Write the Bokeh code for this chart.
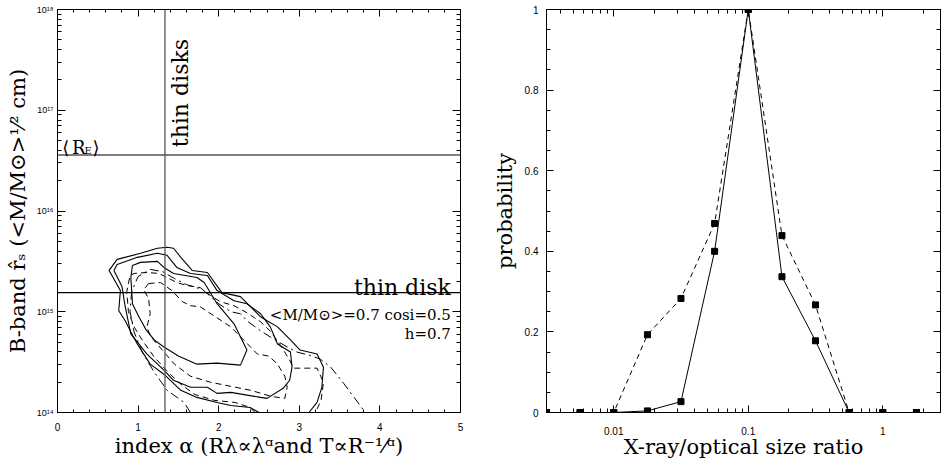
import numpy as np
from bokeh.plotting import figure
from bokeh.models import (Range1d, LinearAxis, LogAxis, FixedTicker, LogTicker,
                          CustomJSTickFormatter, Span, Label)
from bokeh.layouts import row
from bokeh.embed import file_html
from bokeh.resources import INLINE

# ---------------- data: left panel (index alpha vs log10 r_s) ----------------
ALPHA_TICKS = [0, 1, 2, 3, 4, 5]
THIN_DISKS_ALPHA = 4.0 / 3.0
R_E = 3.6e16
THIN_DISK_R = 1.55e15

S1_alpha = [0.93, 1.03, 1.24, 1.32, 1.44, 1.73, 1.82, 1.98, 2.19, 2.35, 2.27, 1.98, 1.73,
            1.50, 1.32, 1.20, 1.10, 1.01, 0.93, 0.91, 0.93]
S1_logr = [15.46, 15.49, 15.50, 15.44, 15.38, 15.34, 15.29, 15.08, 14.88, 14.62, 14.47, 14.49, 14.48,
           14.56, 14.65, 14.72, 14.82, 14.95, 15.08, 15.34, 15.46]

S2_alpha = [0.70, 0.74, 0.99, 1.24, 1.36, 1.48, 1.65, 1.86, 1.98, 2.19, 2.35, 2.52, 2.64, 2.73,
            2.89, 2.91, 2.88, 2.80, 2.60, 2.52, 2.15, 1.98, 1.86, 1.65, 1.44, 1.32, 1.11, 0.91,
            0.84, 0.80, 0.70]
S2_logr = [15.41, 15.47, 15.54, 15.58, 15.56, 15.44, 15.38, 15.36, 15.21, 15.11, 15.08, 14.98, 14.85, 14.68,
           14.60, 14.45, 14.32, 14.24, 14.14, 14.15, 14.20, 14.19, 14.25, 14.25, 14.32, 14.42, 14.58, 14.78,
           15.05, 15.25, 15.41]

S3_alpha = [2.50, 2.39, 2.15, 1.98, 1.73, 1.53, 1.32, 1.15, 0.99, 0.91, 0.84, 0.76, 0.78, 0.64,
            0.74, 1.03, 1.24, 1.36, 1.44, 1.53, 1.67, 1.86, 2.04, 2.27, 2.52, 2.60, 2.73, 2.89,
            3.01, 3.22, 3.30, 3.28, 3.22, 3.12]
S3_logr = [14.00, 14.05, 14.07, 14.10, 14.15, 14.22, 14.38, 14.48, 14.68, 14.80, 14.91, 15.01, 15.21, 15.41,
           15.52, 15.58, 15.63, 15.64, 15.63, 15.54, 15.41, 15.39, 15.19, 15.15, 14.95, 14.91, 14.85, 14.72,
           14.62, 14.58, 14.45, 14.25, 14.10, 14.00]

D1_alpha = [1.13, 1.28, 1.42, 1.55, 1.65, 1.77, 1.94, 2.15, 2.31, 2.48, 2.62, 2.73, 2.82, 2.85,
            2.82, 2.65, 2.40, 2.15, 1.90, 1.65, 1.45, 1.30, 1.15, 1.11, 1.15, 1.13, 1.07, 1.13]
D1_logr = [15.28, 15.29, 15.21, 15.10, 15.06, 15.05, 14.96, 14.85, 14.72, 14.58, 14.56, 14.48, 14.36, 14.25,
           14.14, 14.16, 14.22, 14.26, 14.30, 14.36, 14.48, 14.62, 14.76, 14.85, 14.98, 15.13, 15.22, 15.28]

D2_alpha = [2.45, 2.39, 2.20, 1.95, 1.70, 1.50, 1.35, 1.20, 1.05, 0.95, 0.88, 0.86, 0.90, 0.95,
            1.11, 1.26, 1.48, 1.61, 1.77, 1.90, 2.02, 2.19, 2.35, 2.52, 2.65, 2.78, 2.88, 2.93,
            3.10, 3.22, 3.30, 3.27, 3.20]
D2_logr = [14.00, 14.05, 14.10, 14.12, 14.18, 14.30, 14.42, 14.55, 14.72, 14.85, 15.00, 15.20, 15.36, 15.38,
           15.39, 15.38, 15.29, 15.26, 15.24, 15.16, 15.10, 15.06, 14.99, 14.90, 14.80, 14.65, 14.52, 14.44,
           14.44, 14.44, 14.30, 14.12, 14.00]

DD_alpha = [1.65, 1.57, 1.36, 1.20, 1.05, 0.95, 0.90, 0.92, 1.00, 1.15, 1.30, 1.45, 1.60, 1.80,
            2.00, 2.15, 2.27, 2.35, 2.52, 2.68, 2.85, 2.97, 3.12, 3.26, 3.39, 3.55, 3.68, 3.80, 3.82]
DD_logr = [14.00, 14.10, 14.22, 14.40, 14.60, 14.80, 15.00, 15.20, 15.35, 15.42, 15.40, 15.33, 15.27, 15.22,
           15.08, 15.00, 14.98, 14.91, 14.81, 14.73, 14.65, 14.60, 14.57, 14.53, 14.45, 14.29, 14.15, 14.02, 14.00]

# ---------------- data: right panel ----------------
RATIO = [0.00316, 0.00562, 0.01, 0.0178, 0.0316, 0.0562, 0.1, 0.178, 0.316, 0.562, 1.0, 1.78]
PROB_SOLID = [0, 0, 0, 0.004, 0.027, 0.40, 1.0, 0.337, 0.178, 0, 0, 0]
PROB_DASHED = [0, 0, 0, 0.193, 0.283, 0.469, 1.0, 0.439, 0.267, 0, 0, 0]
PROB_TICKS = [0, 0.2, 0.4, 0.6, 0.8, 1.0]

SERIF = "DejaVu Serif"
SANS = "Liberation Sans"


def style_axis(ax, major_in, minor_in, size="10px", standoff=6, labels=True):
    ax.major_tick_in = major_in
    ax.major_tick_out = 0
    ax.minor_tick_in = minor_in
    ax.minor_tick_out = 0
    ax.axis_line_color = "black"
    ax.major_tick_line_color = "black"
    ax.minor_tick_line_color = "black"
    ax.major_label_text_font = SANS
    ax.major_label_text_color = "black"
    ax.major_label_text_font_size = size
    ax.major_label_standoff = standoff
    if not labels:
        ax.major_label_text_font_size = "1px"
        ax.major_label_text_color = None
        ax.major_label_standoff = 0
    ax.axis_label_text_font = SERIF
    ax.axis_label_text_font_style = "normal"
    ax.axis_label_text_color = "black"
    ax.axis_label_text_font_size = "21px"


pow_fmt = CustomJSTickFormatter(code="""
const e = Math.round(Math.log10(tick));
const sup = {'0':'\u2070','1':'\u00b9','2':'\u00b2','3':'\u00b3','4':'\u2074','5':'\u2075',
             '6':'\u2076','7':'\u2077','8':'\u2078','9':'\u2079','-':'\u207b'};
return '10' + String(e).split('').map(c => sup[c]).join('');
""")

# ---------------- left figure ----------------
p1 = figure(width=470, height=462, x_range=Range1d(0, 5), y_range=Range1d(1e14, 1e18),
            y_axis_type="log", output_backend="svg", toolbar_location=None,
            min_border_left=57, min_border_right=10, min_border_top=9, min_border_bottom=50)
p1.grid.visible = False
p1.outline_line_color = "black"

xt = FixedTicker(ticks=ALPHA_TICKS, minor_ticks=[i * 0.2 for i in range(26)])
bx = p1.below[0]
bx.ticker = xt
style_axis(bx, 7, 3, "10px", 10)
bx.axis_label = "index \u03b1 (R\u03bb\u221d\u03bb\u1d45and T\u221dR\u207b\u00b9\u2044\u1d45)"
bx.axis_label_standoff = 0

ly = p1.left[0]
ly.ticker = LogTicker(num_minor_ticks=10)
ly.formatter = pow_fmt
style_axis(ly, 8, 4, "9px", 4)
ly.axis_label = "B-band r\u0302\u209b (<M/M\u2299>\u00b9\u2044\u00b2 cm)"
ly.axis_label_standoff = 4

top1 = LinearAxis(ticker=xt)
style_axis(top1, 7, 3, labels=False)
p1.add_layout(top1, "above")
right1 = LogAxis(ticker=LogTicker(num_minor_ticks=10))
style_axis(right1, 8, 4, labels=False)
p1.add_layout(right1, "right")

p1.add_layout(Span(location=THIN_DISKS_ALPHA, dimension="height", line_color="#555555", line_width=1.3))
p1.add_layout(Span(location=R_E, dimension="width", line_color="#555555", line_width=1.5))
p1.add_layout(Span(location=THIN_DISK_R, dimension="width", line_color="black", line_width=1.2))

for a, lr in [(S1_alpha, S1_logr), (S2_alpha, S2_logr), (S3_alpha, S3_logr)]:
    p1.line(a, [10 ** v for v in lr], line_color="black", line_width=1.1)
for a, lr in [(D1_alpha, D1_logr), (D2_alpha, D2_logr)]:
    p1.line(a, [10 ** v for v in lr], line_color="black", line_width=1.0, line_dash="6 4")
p1.line(DD_alpha, [10 ** v for v in DD_logr], line_color="black", line_width=1.0, line_dash="9 4 2 4")

lab_kw = dict(text_font=SERIF, text_color="black")
p1.add_layout(Label(x=THIN_DISKS_ALPHA, y=4.3e16, x_offset=3, text="thin disks", angle=np.pi / 2,
                    text_align="left", text_baseline="top", text_font_size="22px", **lab_kw))
p1.add_layout(Label(x=4.88, y=THIN_DISK_R, y_offset=5, text="thin disk", text_align="right",
                    text_baseline="alphabetic", text_font_size="22px", **lab_kw))
p1.add_layout(Label(x=4.88, y=9.2e14, text="<M/M\u2299>=0.7 cosi=0.5", text_align="right",
                    text_baseline="alphabetic", text_font_size="15px", **lab_kw))
p1.add_layout(Label(x=4.88, y=5.97e14, text="h=0.7", text_align="right",
                    text_baseline="alphabetic", text_font_size="15px", **lab_kw))
p1.add_layout(Label(x=0.06, y=R_E, y_offset=7, text="\u27e8", text_align="left", text_font="DejaVu Sans",
                    text_color="black", text_baseline="alphabetic", text_font_size="18px"))
p1.add_layout(Label(x=0.18, y=R_E, y_offset=7, text="R", text_align="left",
                    text_baseline="alphabetic", text_font_size="18px", **lab_kw))
p1.add_layout(Label(x=0.335, y=R_E, y_offset=4, text="E", text_align="left",
                    text_baseline="alphabetic", text_font_size="10px", **lab_kw))
p1.add_layout(Label(x=0.434, y=R_E, y_offset=7, text="\u27e9", text_align="left", text_font="DejaVu Sans",
                    text_color="black", text_baseline="alphabetic", text_font_size="18px"))

# ---------------- right figure ----------------
p2 = figure(width=474, height=462, x_range=Range1d(10 ** -2.5, 10 ** 0.429), y_range=Range1d(0, 1),
            x_axis_type="log", output_backend="svg", toolbar_location=None,
            min_border_left=76, min_border_right=4, min_border_top=9, min_border_bottom=50)
p2.grid.visible = False
p2.outline_line_color = "black"

ratio_fmt = CustomJSTickFormatter(code="""
const e = Math.round(Math.log10(tick));
return e >= 0 ? String(Math.round(Math.pow(10, e))) : Math.pow(10, e).toFixed(-e);
""")
prob_fmt = CustomJSTickFormatter(code="return String(Math.round(tick * 10) / 10);")
yt = FixedTicker(ticks=PROB_TICKS, minor_ticks=[i * 0.05 for i in range(21)])

bx2 = p2.below[0]
bx2.ticker = LogTicker(num_minor_ticks=10)
bx2.formatter = ratio_fmt
style_axis(bx2, 7, 4, "10px", 14)
bx2.axis_label = "X-ray/optical size ratio"
bx2.axis_label_standoff = -3

ly2 = p2.left[0]
ly2.ticker = yt
ly2.formatter = prob_fmt
style_axis(ly2, 7, 4, "10px", 8)
ly2.axis_label = "probability"
ly2.axis_label_standoff = 5

top2 = LogAxis(ticker=LogTicker(num_minor_ticks=10))
style_axis(top2, 7, 4, labels=False)
p2.add_layout(top2, "above")
right2 = LinearAxis(ticker=yt)
style_axis(right2, 7, 4, labels=False)
p2.add_layout(right2, "right")

p2.line(RATIO, PROB_DASHED, line_color="black", line_width=1.0, line_dash="5 4")
p2.line(RATIO, PROB_SOLID, line_color="black", line_width=1.0)
p2.scatter(RATIO, PROB_DASHED, marker="square", size=6, color="black")
p2.scatter(RATIO, PROB_SOLID, marker="square", size=6, color="black")

layout = row(p1, p2)
open("out.html", "w").write(file_html(layout, INLINE))
